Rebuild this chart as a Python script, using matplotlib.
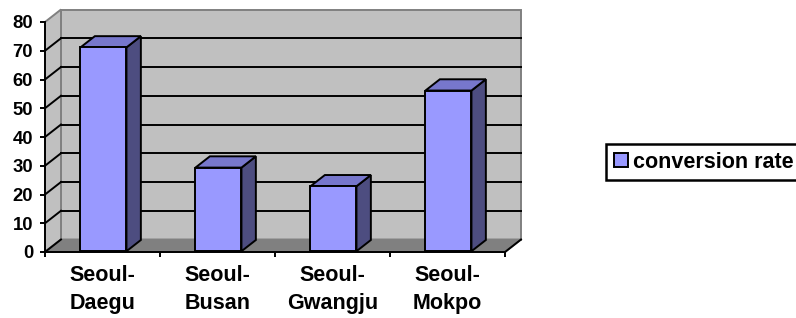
import numpy as np
import matplotlib
matplotlib.use('Agg')
import matplotlib.pyplot as plt
from matplotlib.patches import Polygon, Patch
from matplotlib.lines import Line2D

categories = ['Seoul-\nDaegu', 'Seoul-\nBusan', 'Seoul-\nGwangju', 'Seoul-\nMokpo']
values = [70.9, 29.1, 22.6, 55.9]
series_name = 'conversion rate'
yticks = [0, 10, 20, 30, 40, 50, 60, 70, 80]

plt.rcParams['font.family'] = ['Liberation Sans', 'DejaVu Sans']

W, H = 796, 318
fig = plt.figure(figsize=(W / 100, H / 100), dpi=100)
ax_l, ax_r, ax_b, ax_t = 45, 505, 252, 22
ax = fig.add_axes([ax_l / W, (H - ax_b) / H, (ax_r - ax_l) / W, (ax_b - ax_t) / H])
n = len(categories)
ymax = yticks[-1]
ax.set_xlim(0, n)
ax.set_ylim(0, ymax)
ax.patch.set_visible(False)

px_x = n / (ax_r - ax_l)
px_y = ymax / (ax_b - ax_t)
DX, DY = 16 * px_x, 12.5 * px_y


def P(x, y, d):
    return (x + d * DX, y + d * DY)


LW = 1.4
wall_c = '#C0C0C0'
edge_c = '#808080'

# back wall
ax.add_patch(Polygon([P(0, 0, 1), P(n, 0, 1), P(n, ymax, 1), P(0, ymax, 1)],
                     closed=True, fc=wall_c, ec=edge_c, lw=LW, clip_on=False, zorder=0.5))
# left wall
ax.add_patch(Polygon([P(0, 0, 0), P(0, 0, 1), P(0, ymax, 1), P(0, ymax, 0)],
                     closed=True, fc=wall_c, ec=edge_c, lw=LW, clip_on=False, zorder=0.5))
# floor
ax.add_patch(Polygon([P(0, 0, 0), P(n, 0, 0), P(n, 0, 1), P(0, 0, 1)],
                     closed=True, fc='#808080', ec='#808080', lw=LW, clip_on=False, zorder=0.6))

# gridlines
for v in yticks[:-1]:
    if v > 0:
        a, b = P(0, v, 1), P(n, v, 1)
        ax.add_line(Line2D([a[0], b[0]], [a[1], b[1]], color='black', lw=LW, clip_on=False, zorder=0.7))
    a, b = P(0, v, 0), P(0, v, 1)
    ax.add_line(Line2D([a[0], b[0]], [a[1], b[1]], color='black', lw=LW, clip_on=False, zorder=0.7))
a, b = P(n, 0, 0), P(n, 0, 1)
ax.add_line(Line2D([a[0], b[0]], [a[1], b[1]], color='black', lw=LW, clip_on=False, zorder=0.7))

# bars
hw = 0.2
d0, d1 = 0.06, 0.96
front_c, top_c, side_c = '#9999FF', '#7777CC', '#4D4D80'
for i, v in enumerate(values):
    xc = i + 0.5
    x0, x1 = xc - hw, xc + hw
    ax.add_patch(Polygon([P(x1, 0, d0), P(x1, 0, d1), P(x1, v, d1), P(x1, v, d0)],
                         closed=True, fc=side_c, ec='black', lw=LW, clip_on=False, zorder=3))
    ax.add_patch(Polygon([P(x0, v, d0), P(x1, v, d0), P(x1, v, d1), P(x0, v, d1)],
                         closed=True, fc=top_c, ec='black', lw=LW, clip_on=False, zorder=3))
    ax.add_patch(Polygon([P(x0, 0, d0), P(x1, 0, d0), P(x1, v, d0), P(x0, v, d0)],
                         closed=True, fc=front_c, ec='black', lw=LW, clip_on=False, zorder=3.1))

# axes
for s in ['top', 'right']:
    ax.spines[s].set_visible(False)
for s in ['left', 'bottom']:
    ax.spines[s].set_color('black')
    ax.spines[s].set_linewidth(LW)
    ax.spines[s].set_zorder(2.5)

ax.set_yticks(yticks)
ax.set_yticklabels([str(t) for t in yticks], fontsize=13.3, fontweight='bold')
ax.tick_params(axis='y', direction='out', length=3.6, width=LW, pad=5, colors='black')

ax.set_xticks(np.arange(n + 1))
ax.set_xticklabels([''] * (n + 1))
ax.tick_params(axis='x', which='major', direction='out', length=3.6, width=LW)
ax.set_xticks(np.arange(n) + 0.5, minor=True)
ax.set_xticklabels(categories, minor=True, fontsize=15.5, fontweight='bold', linespacing=1.42)
ax.tick_params(axis='x', which='minor', length=0, pad=9.5)

leg = fig.legend(handles=[Patch(fc=front_c, ec='black', lw=LW)], labels=[series_name],
                 loc='center left', bbox_to_anchor=(606 / W, 1 - 162 / H),
                 frameon=True, fancybox=False, edgecolor='black', framealpha=1,
                 prop={'weight': 'bold', 'size': 15.5}, handlelength=0.65, handleheight=0.65,
                 handletextpad=0.25, borderpad=0.35, borderaxespad=0)
leg.get_frame().set_linewidth(1.8)

fig.savefig('out.png', dpi=100)
